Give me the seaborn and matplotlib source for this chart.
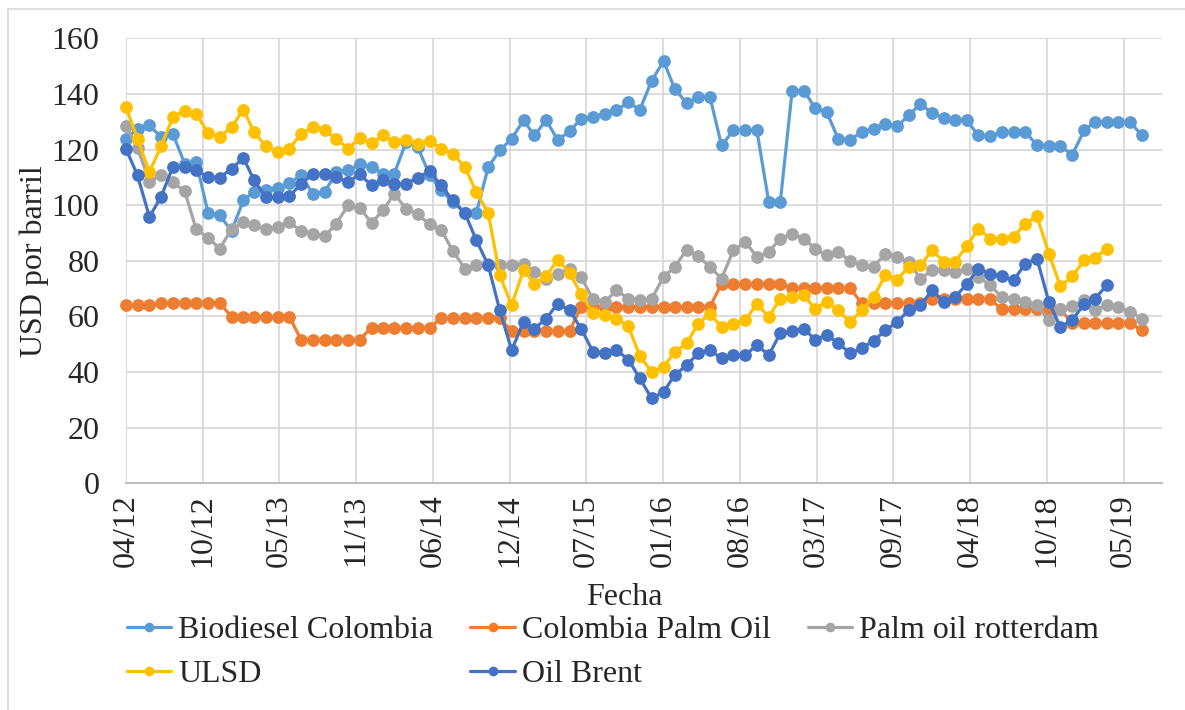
import pandas as pd
import numpy as np
import matplotlib.pyplot as plt
from matplotlib.lines import Line2D
import seaborn as sns

# Monthly prices (USD por barril), starting April 2012
start = '2012-04-01'

biodiesel_colombia = [
    123.9, 127.5, 128.7, 124.5, 125.7, 114.9, 115.5, 97.2, 96.3, 90.8, 101.7, 104.9, 105.3, 106.2, 107.9,
    110.7, 104.1, 104.7, 111.9, 112.5, 114.7, 113.7, 111.3, 111.3, 122.7, 120.9, 111.0, 105.3, 101.1,
    97.2, 97.2, 113.7, 119.7, 123.9, 130.5, 125.1, 130.5, 123.5, 126.5, 131.1, 131.7, 132.9, 134.1, 137.0,
    134.3, 144.8, 151.8, 141.8, 136.7, 138.8, 138.8, 121.5, 126.9, 126.9, 126.9, 101.1, 101.1, 141.2,
    141.2, 135.0, 133.4, 123.9, 123.5, 126.3, 127.5, 129.3, 128.3, 132.3, 136.4, 133.1, 131.4, 130.7, 130.5,
    125.1, 124.7, 126.3, 126.3, 126.3, 121.5, 121.1, 121.1, 118.2, 126.9, 129.9, 129.9, 129.9, 129.9, 125.1,
]

colombia_palm_oil = [
    64.0, 64.0, 64.0, 65.0, 65.0, 65.0, 65.0, 65.0, 65.0, 59.8, 59.8, 59.8, 59.8, 59.8, 59.8,
    51.7, 51.7, 51.7, 51.7, 51.7, 51.7, 56.0, 56.0, 56.0, 56.0, 56.0, 56.0, 59.3, 59.3,
    59.3, 59.3, 59.3, 59.3, 54.8, 54.8, 54.8, 54.8, 54.8, 54.8, 63.5, 63.5, 63.5, 63.5, 63.5,
    63.5, 63.5, 63.5, 63.5, 63.5, 63.5, 63.5, 71.8, 71.8, 71.8, 71.8, 71.8, 71.8, 70.1,
    70.1, 70.1, 70.1, 70.1, 70.1, 64.8, 64.8, 64.8, 64.8, 64.8, 64.8, 66.2, 66.2, 66.2,
    66.2, 66.2, 66.2, 62.5, 62.5, 62.5, 62.5, 62.5, 62.5, 57.6, 57.6, 57.6, 57.6, 57.6, 57.6, 55.0,
]

palm_oil_rotterdam = [
    128.5, 120.5, 108.5, 110.7, 108.3, 105.0, 91.3, 88.3, 84.4, 91.3, 93.9, 92.7, 91.3, 92.1, 93.9,
    90.7, 89.8, 88.8, 93.4, 100.0, 99.1, 93.6, 98.4, 104.1, 98.7, 96.7, 93.1, 91.2, 83.5,
    77.2, 78.4, 79.0, 78.5, 78.4, 79.0, 76.0, 73.6, 75.4, 77.2, 74.2, 66.1, 65.2, 69.4, 66.4,
    65.8, 66.4, 74.2, 77.8, 84.0, 81.6, 77.8, 73.6, 83.8, 86.8, 81.4, 83.2, 88.0, 89.8,
    88.0, 84.4, 82.0, 83.2, 80.0, 78.4, 77.8, 82.6, 81.4, 79.6, 73.6, 76.6, 76.6, 76.0, 77.0,
    74.2, 71.2, 67.0, 66.4, 65.2, 64.0, 58.6, 62.5, 63.7, 65.8, 62.3, 64.0, 63.4, 61.6, 59.2,
]

ulsd = [
    135.2, 123.9, 111.9, 121.1, 131.6, 134.0, 132.8, 125.9, 124.5, 128.1, 134.3, 126.3, 121.1, 119.1, 120.3,
    125.7, 128.1, 126.9, 123.9, 120.3, 124.2, 122.3, 125.1, 122.7, 123.5, 122.1, 123.0, 120.3, 118.5,
    113.7, 104.7, 97.2, 74.8, 64.0, 76.8, 71.8, 74.4, 80.4, 75.6, 68.0, 61.3, 60.4, 59.2, 56.5,
    45.7, 40.1, 41.9, 47.3, 50.3, 57.4, 61.0, 56.2, 57.4, 58.6, 64.6, 59.8, 66.4, 67.0,
    67.6, 62.8, 65.2, 62.2, 58.0, 62.2, 67.0, 74.8, 73.2, 77.8, 78.4, 83.8, 79.6, 79.6, 85.2,
    91.6, 88.0, 88.0, 88.6, 93.4, 96.0, 82.6, 70.8, 74.4, 80.2, 81.1, 84.4,
]

oil_brent = [
    120.3, 110.7, 95.8, 102.9, 113.7, 113.7, 112.5, 110.1, 109.9, 113.1, 117.0, 108.9, 102.9, 102.9, 103.2,
    107.7, 111.1, 111.3, 110.1, 108.3, 111.1, 107.1, 109.2, 107.5, 107.7, 109.9, 112.3, 107.1, 101.7,
    97.2, 87.4, 78.4, 62.2, 47.9, 58.0, 55.6, 59.2, 64.6, 62.2, 55.6, 47.3, 46.9, 47.9, 44.5,
    37.7, 30.5, 32.9, 38.9, 42.5, 46.7, 47.9, 44.9, 46.1, 46.1, 49.7, 46.1, 53.9, 54.8,
    55.6, 51.7, 53.3, 50.5, 46.7, 48.5, 51.2, 55.0, 58.0, 62.2, 64.0, 69.4, 65.2, 67.0, 71.5,
    77.2, 75.4, 74.4, 73.0, 79.0, 80.8, 65.2, 56.2, 58.8, 64.4, 66.4, 71.2,
]

series_names = ['Biodiesel Colombia', 'Colombia Palm Oil', 'Palm oil rotterdam', 'ULSD', 'Oil Brent']
series_values = [biodiesel_colombia, colombia_palm_oil, palm_oil_rotterdam, ulsd, oil_brent]
colors = ['#5B9BD5', '#ED7D31', '#A5A5A5', '#FFC000', '#4472C4']

tick_labels = ['04/12', '10/12', '05/13', '11/13', '06/14', '12/14', '07/15',
               '01/16', '08/16', '03/17', '09/17', '04/18', '10/18', '05/19']

# long table for seaborn
frames = []
for name, vals in zip(series_names, series_values):
    frames.append(pd.DataFrame({
        'Fecha': pd.date_range(start, periods=len(vals), freq='MS'),
        'USD': vals,
        'Serie': name,
    }))
df = pd.concat(frames, ignore_index=True)

sns.set_style('white')
plt.rcParams['font.family'] = ['Liberation Serif', 'DejaVu Serif']
fs = 23

fig = plt.figure(figsize=(11.85, 7.1), dpi=100)
W, H = 1185, 710
ax = fig.add_axes([126 / W, 1 - 483.3 / H, (1161.7 - 126) / W, (483.3 - 38.3) / H])

palette = dict(zip(series_names, colors))
sns.lineplot(data=df, x='Fecha', y='USD', hue='Serie', hue_order=series_names,
             palette=palette, marker='o', markersize=9.2, markeredgewidth=0,
             linewidth=2.3, ax=ax, legend=False, clip_on=False)

# date axis, ticks every 200 days like the original
t0 = pd.Timestamp(start)
tick_pos = [t0 + pd.Timedelta(days=200 * k) for k in range(len(tick_labels))]
ax.set_xticks(tick_pos)
ax.set_xticklabels(tick_labels, rotation=90, fontsize=fs)
ax.set_xlim(t0, t0 + pd.Timedelta(days=2699))

ax.set_ylim(0, 160)
ax.set_yticks(np.arange(0, 161, 20))
ax.tick_params(axis='y', labelsize=fs, length=0, pad=19)
ax.tick_params(axis='x', length=0, pad=8)

ax.grid(True, color='#D9D9D9', linewidth=1.3)
ax.set_axisbelow(True)
for s in ['top', 'right', 'left']:
    ax.spines[s].set_visible(False)
ax.spines['bottom'].set_color('#BFBFBF')
ax.spines['bottom'].set_linewidth(1.5)

ax.set_ylabel('USD por barril', fontsize=fs, labelpad=2)
ax.set_xlabel('Fecha', fontsize=fs)
ax.xaxis.set_label_coords(0.481, -0.224)

# legend filled row by row
handles = [Line2D([0], [0], color=c, lw=2.3, marker='o', markersize=7, markeredgewidth=0)
           for c in colors]
order = [0, 3, 1, 4, 2]
fig.legend([handles[i] for i in order], [series_names[i] for i in order],
           ncol=3, loc='center', bbox_to_anchor=(613 / W, 1 - 652.5 / H),
           frameon=False, fontsize=fs, handlelength=1.4, handletextpad=0.22,
           columnspacing=1.15, labelspacing=0.45)

# outer chart border (left and top)
fig.add_artist(Line2D([8 / W, 8 / W], [0, 1 - 9 / H], transform=fig.transFigure,
                      color='#D9D9D9', lw=1.2))
fig.add_artist(Line2D([8 / W, 1], [1 - 9 / H, 1 - 9 / H], transform=fig.transFigure,
                      color='#D9D9D9', lw=1.2))

fig.savefig('out.png', dpi=100)
plt.close()
